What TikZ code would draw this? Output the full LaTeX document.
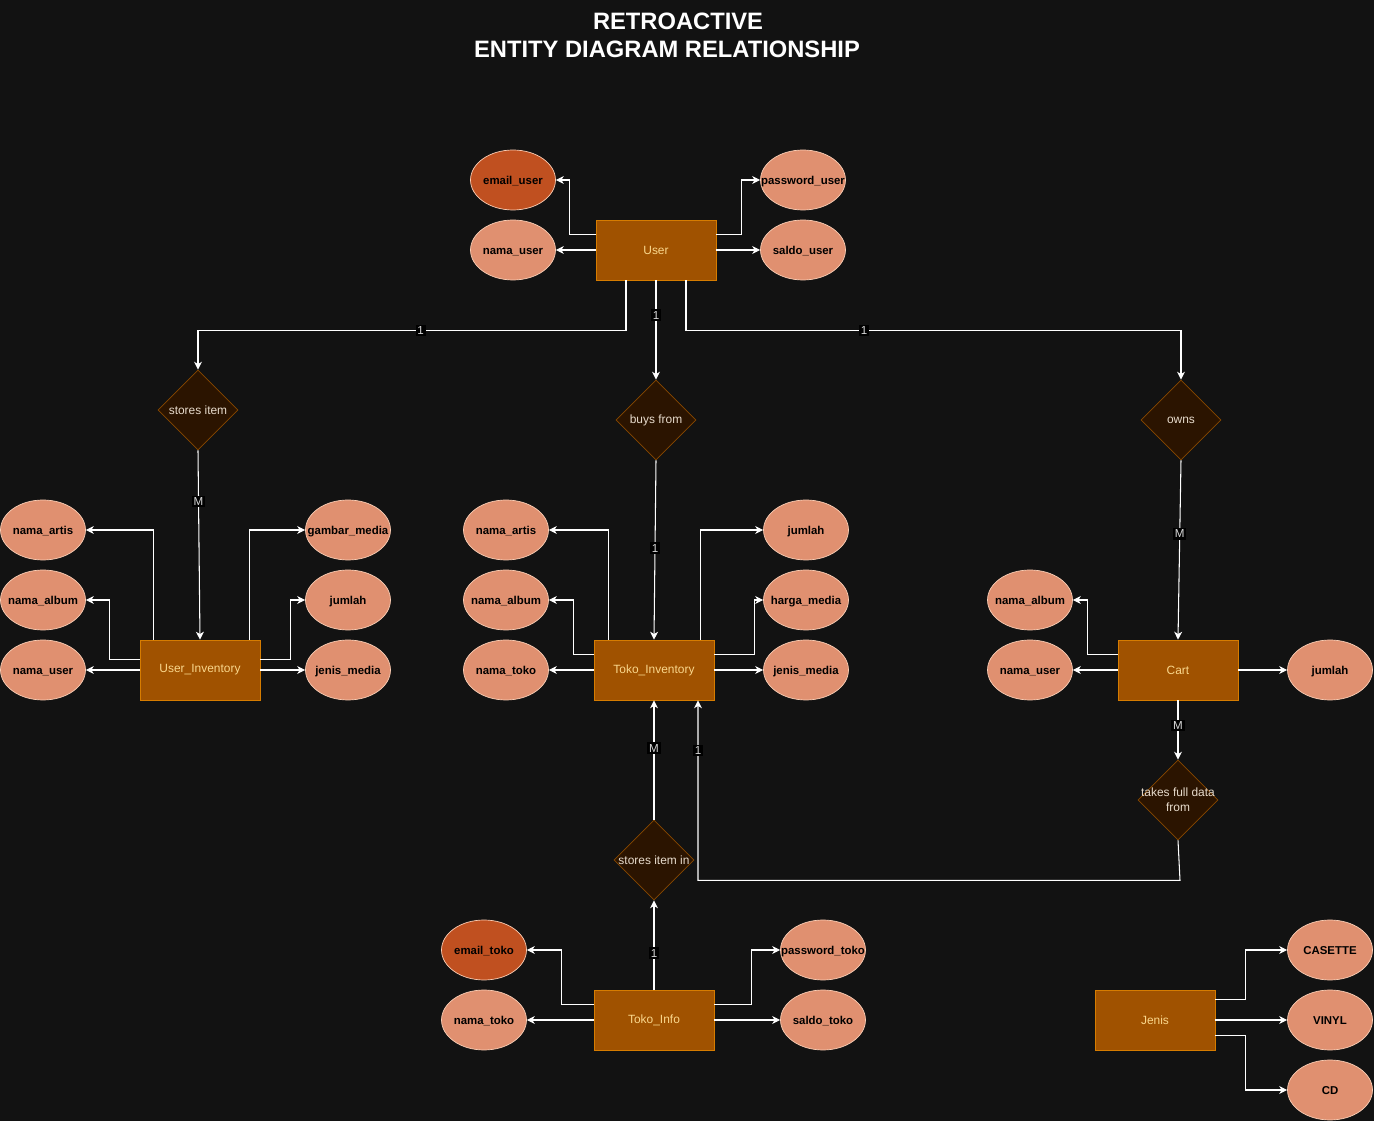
\documentclass[tikz,border=0pt]{standalone}
\usepackage{fontspec}
\setmainfont{Liberation Sans}
\usepackage{tikz}
\usetikzlibrary{shapes.geometric,arrows.meta}

\definecolor{bgdark}{RGB}{18,18,18}
\definecolor{entfill}{RGB}{160,82,0}
\definecolor{entline}{RGB}{214,124,0}
\definecolor{enttext}{RGB}{250,215,140}
\definecolor{attfill}{RGB}{224,144,112}
\definecolor{attline}{RGB}{250,205,180}
\definecolor{keyfill}{RGB}{192,80,32}
\definecolor{relfill}{RGB}{43,20,0}
\definecolor{relline}{RGB}{135,72,0}
\definecolor{reltext}{RGB}{232,220,205}

\tikzset{
  entity/.style={rectangle, draw=entline, fill=entfill, text=enttext, minimum width=2.4cm, minimum height=1.2cm, inner sep=0pt, font=\fontsize{6.8pt}{8pt}\selectfont},
  attr/.style={ellipse, draw=attline, fill=attfill, text=black, minimum width=1.7cm, minimum height=1.2cm, inner xsep=-0.25cm, inner ysep=0pt, text height=6.2pt, text depth=1.2pt, font=\bfseries\fontsize{6.5pt}{7.5pt}\selectfont},
  keyattr/.style={attr, fill=keyfill},
  rel/.style={diamond, draw=relline, fill=relfill, text=reltext, align=center, minimum width=1.6cm, minimum height=1.6cm, inner sep=-0.15cm, font=\fontsize{6.8pt}{8.5pt}\selectfont},
  conn/.style={draw=white, line width=0.6pt, -{Stealth[length=4.5pt,width=4.5pt,inset=1.3pt]}},
  card/.style={fill=black, text=white!85!black, inner sep=1pt, font=\fontsize{6.6pt}{7.5pt}\selectfont},
  title/.style={text=white, font=\bfseries\fontsize{13.5pt}{16pt}\selectfont}
}

\begin{document}
\begin{tikzpicture}[x=0.02cm,y=-0.02cm]
    \fill[bgdark] (0,0) rectangle (1374,1121);
    \node[title] (title1) at (678,21) {RETROACTIVE};
    \node[title] (title2) at (667,49) {ENTITY DIAGRAM RELATIONSHIP};

    \node[entity] (usr) at (656,250) {User};
    \node[keyattr] (emailuser) at (513,180) {email\_user};
    \node[attr] (namauser) at (513,250) {nama\_user};
    \node[attr] (passuser) at (803,180) {password\_user};
    \node[attr] (saldouser) at (803,250) {saldo\_user};
    \draw[conn] (usr.north west) ++(0,15) -- ++(-26,0) |- (emailuser.east);
    \draw[conn] (usr.west) -- (namauser.east);
    \draw[conn] (usr.north east) ++(0,15) -- ++(25,0) |- (passuser.west);
    \draw[conn] (usr.east) -- (saldouser.west);

    \node[rel] (storesitem) at (198,410) {stores item};
    \node[rel] (buys) at (656,420) {buys from};
    \node[rel] (owns) at (1181,420) {owns};
    \draw[conn] ([xshift=-0.6cm]usr.south) -- ++(0,50) -| node[card,pos=0.24]{1} (storesitem.north);
    \draw[conn] (usr.south) -- node[card,pos=0.35]{1} (buys.north);
    \draw[conn] ([xshift=0.6cm]usr.south) -- ++(0,50) -| node[card,pos=0.18]{1} (owns.north);

    \node[entity] (uinv) at (200,670) {User\_Inventory};
    \node[attr] (uiartis) at (43,530) {nama\_artis};
    \node[attr] (uialbum) at (43,600) {nama\_album};
    \node[attr] (uiuser) at (43,670) {nama\_user};
    \node[attr] (uigambar) at (348,530) {gambar\_media};
    \node[attr] (uijumlah) at (348,600) {jumlah};
    \node[attr] (uijenis) at (348,670) {jenis\_media};
    \draw[conn] (storesitem.south) -- node[card,pos=0.27]{M} (uinv.north);
    \draw[conn] (uinv.north west) ++(14,0) |- (uiartis.east);
    \draw[conn] (uinv.north west) ++(0,20) -- ++(-30,0) |- (uialbum.east);
    \draw[conn] (uinv.west) -- (uiuser.east);
    \draw[conn] (uinv.north east) ++(-11,0) |- (uigambar.west);
    \draw[conn] (uinv.north east) ++(0,20) -- ++(30,0) |- (uijumlah.west);
    \draw[conn] (uinv.east) -- (uijenis.west);

    \node[entity] (tinv) at (654,670) {Toko\_Inventory};
    \node[attr] (tiartis) at (506,530) {nama\_artis};
    \node[attr] (tialbum) at (506,600) {nama\_album};
    \node[attr] (titoko) at (506,670) {nama\_toko};
    \node[attr] (tijumlah) at (806,530) {jumlah};
    \node[attr] (tiharga) at (806,600) {harga\_media};
    \node[attr] (tijenis) at (806,670) {jenis\_media};
    \draw[conn] (buys.south) -- node[card,pos=0.49]{1} (tinv.north);
    \draw[conn] (tinv.north west) ++(15,0) |- (tiartis.east);
    \draw[conn] (tinv.north west) ++(0,15) -- ++(-20,0) |- (tialbum.east);
    \draw[conn] (tinv.west) -- (titoko.east);
    \draw[conn] (tinv.north east) ++(-14,0) |- (tijumlah.west);
    \draw[conn] (tinv.north east) ++(0,15) -- ++(40,0) |- (tiharga.west);
    \draw[conn] (tinv.east) -- (tijenis.west);

    \node[entity] (cart) at (1178,670) {Cart};
    \node[attr] (cartalbum) at (1030,600) {nama\_album};
    \node[attr] (cartuser) at (1030,670) {nama\_user};
    \node[attr] (cartjumlah) at (1330,670) {jumlah};
    \draw[conn] (owns.south) -- node[card,pos=0.41]{M} (cart.north);
    \draw[conn] (cart.north west) ++(0,15) -- ++(-30,0) |- (cartalbum.east);
    \draw[conn] (cart.west) -- (cartuser.east);
    \draw[conn] (cart.east) -- (cartjumlah.west);

    \node[rel] (takes) at (1178,800) {takes full data\\from};
    \node[rel] (storesin) at (654,860) {stores item in};
    \draw[conn] (cart.south) -- node[card,pos=0.42]{M} (takes.north);
    \draw[conn] (takes.south) -- ++(2,40) -| node[card,pos=0.86]{1} ([xshift=0.88cm]tinv.south);
    \draw[conn] (storesin.north) -- node[card,pos=0.6]{M} (tinv.south);

    \node[entity] (tinfo) at (654,1020) {Toko\_Info};
    \node[keyattr] (emailtoko) at (484,950) {email\_toko};
    \node[attr] (namatoko) at (484,1020) {nama\_toko};
    \node[attr] (passtoko) at (823,950) {password\_toko};
    \node[attr] (saldotoko) at (823,1020) {saldo\_toko};
    \draw[conn] (tinfo.north) -- node[card,pos=0.41]{1} (storesin.south);
    \draw[conn] (tinfo.north west) ++(0,15) -- ++(-32,0) |- (emailtoko.east);
    \draw[conn] (tinfo.west) -- (namatoko.east);
    \draw[conn] (tinfo.north east) ++(0,15) -- ++(37,0) |- (passtoko.west);
    \draw[conn] (tinfo.east) -- (saldotoko.west);

    \node[entity] (jenis) at (1155,1020) {Jenis};
    \node[attr] (casette) at (1330,950) {CASETTE};
    \node[attr] (vinyl) at (1330,1020) {VINYL};
    \node[attr] (cd) at (1330,1090) {CD};
    \draw[conn] (jenis.north east) ++(0,10) -- ++(30,0) |- (casette.west);
    \draw[conn] (jenis.east) -- (vinyl.west);
    \draw[conn] (jenis.south east) ++(0,-15) -- ++(30,0) |- (cd.west);
\end{tikzpicture}
\end{document}
